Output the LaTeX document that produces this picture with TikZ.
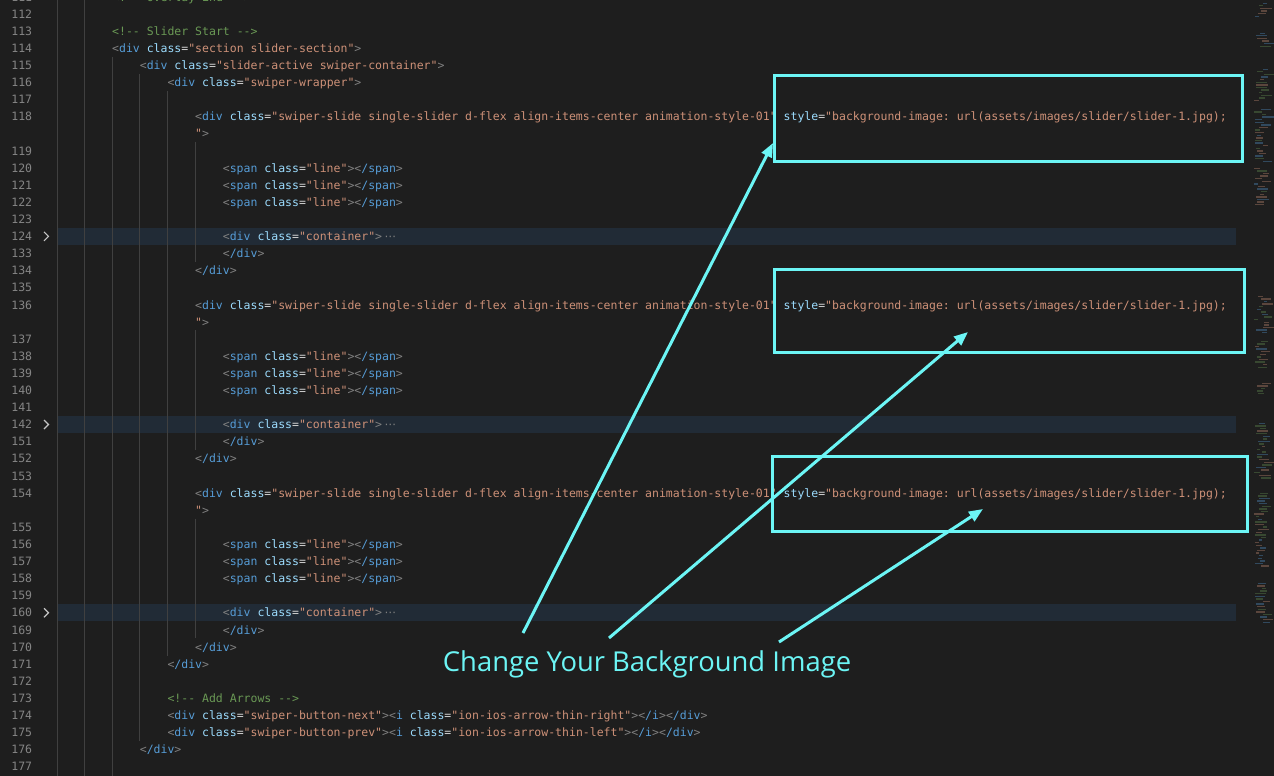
\documentclass[tikz,border=0pt]{standalone}
\usepackage{fontspec}
\setmonofont{DejaVu Sans Mono}
\newfontfamily\labelfont{Open Sans}
\newfontfamily\symfont{DejaVu Sans}
\usetikzlibrary{arrows.meta}
\definecolor{bg}{HTML}{1E1E1E}
\definecolor{lnc}{HTML}{858585}
\definecolor{pun}{HTML}{808080}
\definecolor{tagc}{HTML}{569CD6}
\definecolor{attr}{HTML}{9CDCFE}
\definecolor{eqc}{HTML}{D4D4D4}
\definecolor{strc}{HTML}{CE9178}
\definecolor{comc}{HTML}{6A9955}
\definecolor{guide}{HTML}{404040}
\definecolor{hil}{HTML}{212B36}
\definecolor{cyanc}{HTML}{6CF5F5}
\definecolor{chevc}{HTML}{C5C5C5}
\newcommand\xop[1]{\textcolor{pun}{<}\textcolor{tagc}{#1}}
\newcommand\xcl[1]{\textcolor{pun}{<}\textcolor{tagc}{/#1}\textcolor{pun}{>}}
\newcommand\xgt{\textcolor{pun}{>}}
\newcommand\xat[1]{\textcolor{attr}{#1}\textcolor{eqc}{=}}
\newcommand\xst[1]{\textcolor{strc}{"#1"}}
\newcommand\xcm[1]{\textcolor{comc}{#1}}
\newcommand\xfold{\hspace{2.5pt}\textcolor{pun}{\symfont ⋯}}
\newcommand\xslide{\xop{div} \xat{class}\xst{swiper-slide single-slider d-flex align-items-center animation-style-01} \xat{style}\textcolor{strc}{"background-image: url(assets/images/slider/slider-1.jpg);}}
\newcommand\xspan{\xop{span} \xat{class}\xst{line}\xgt\xcl{span}}
\newcommand\xcont{\xop{div} \xat{class}\xst{container}\xgt\xfold}
\tikzset{
  x=1pt, y=1pt,
  code/.style={anchor=base west, inner sep=0pt, font=\ttfamily\fontsize{11.5}{13}\selectfont},
  lnum/.style={anchor=base east, inner sep=0pt, font=\ttfamily\fontsize{11.5}{13}\selectfont, text=lnc},
  callout/.style={draw=cyanc, line width=3pt, inner sep=0pt, anchor=north west},
  pointer/.style={draw=cyanc, line width=3pt, -{Triangle[length=14pt,width=11pt]}},
  guideline/.style={draw=guide, line width=1pt},
  foldband/.style={fill=hil},
  chev/.style={draw=chevc, line width=1.2pt},
  labeltext/.style={anchor=base west, inner sep=0pt, text=cyanc, font=\labelfont\fontsize{27.4}{30}\selectfont},
}
\newcommand\crow[4]{\node[code] (c#1) at ({56.6+6.92*#3},{-(18.2+17.107*#2)}) {#4};}
\begin{document}
\begin{tikzpicture}
\useasboundingbox (0,0) rectangle (1274,-776);
\clip (0,0) rectangle (1274,-776);
\fill[bg] (0,0) rectangle (1274,-776);
% folded-line highlight bands
\foreach \r in {13,24,35}
  \fill[foldband] (57,{-(14+17.107*\r-8.55)}) rectangle (1236,{-(14+17.107*\r+8.55)});
% indent guides
\draw[guideline] (57,0) -- (57,-776);
\draw[guideline] (84,0) -- (84,-776);
\draw[guideline] (112,{-(14+17.107*2+8.55)}) -- (112,-776);
\draw[guideline] (139.5,{-(14+17.107*3+8.55)}) -- (139.5,{-(14+17.107*42+8.55)});
\draw[guideline] (167,{-(14+17.107*4+8.55)}) -- (167,{-(14+17.107*37+8.55)});
\foreach \a/\b in {7/14,18/25,29/36}
  \draw[guideline] (195,{-(14+17.107*\a+8.55)}) -- (195,{-(14+17.107*\b+8.55)});
% line numbers
\foreach \r/\n in {-1/111,0/112,1/113,2/114,3/115,4/116,5/117,6/118,8/119,9/120,10/121,11/122,12/123,13/124,14/133,15/134,16/135,17/136,19/137,20/138,21/139,22/140,23/141,24/142,25/151,26/152,27/153,28/154,30/155,31/156,32/157,33/158,34/159,35/160,36/169,37/170,38/171,39/172,40/173,41/174,42/175,43/176,44/177}
  \node[lnum] (n\n) at (32.3,{-(18.2+17.107*\r)}) {\n};
% fold chevrons
\foreach \r in {13,24,35}
  \draw[chev] (44,{-(14+17.107*\r-4.5)}) -- (48.5,{-(14+17.107*\r)}) -- (44,{-(14+17.107*\r+4.5)});
% code
\crow{111}{-1}{8}{\xcm{<!-- Overlay End -->}}
\crow{113}{1}{8}{\xcm{<!-- Slider Start -->}}
\crow{114}{2}{8}{\xop{div} \xat{class}\xst{section slider-section}\xgt}
\crow{115}{3}{12}{\xop{div} \xat{class}\xst{slider-active swiper-container}\xgt}
\crow{116}{4}{16}{\xop{div} \xat{class}\xst{swiper-wrapper}\xgt}
\crow{118}{6}{20}{\xslide}
\crow{118w}{7}{20}{\textcolor{strc}{"}\xgt}
\crow{120}{9}{24}{\xspan}
\crow{121}{10}{24}{\xspan}
\crow{122}{11}{24}{\xspan}
\crow{124}{13}{24}{\xcont}
\crow{133}{14}{24}{\xcl{div}}
\crow{134}{15}{20}{\xcl{div}}
\crow{136}{17}{20}{\xslide}
\crow{136w}{18}{20}{\textcolor{strc}{"}\xgt}
\crow{138}{20}{24}{\xspan}
\crow{139}{21}{24}{\xspan}
\crow{140}{22}{24}{\xspan}
\crow{142}{24}{24}{\xcont}
\crow{151}{25}{24}{\xcl{div}}
\crow{152}{26}{20}{\xcl{div}}
\crow{154}{28}{20}{\xslide}
\crow{154w}{29}{20}{\textcolor{strc}{"}\xgt}
\crow{156}{31}{24}{\xspan}
\crow{157}{32}{24}{\xspan}
\crow{158}{33}{24}{\xspan}
\crow{160}{35}{24}{\xcont}
\crow{169}{36}{24}{\xcl{div}}
\crow{170}{37}{20}{\xcl{div}}
\crow{171}{38}{16}{\xcl{div}}
\crow{173}{40}{16}{\xcm{<!-- Add Arrows -->}}
\crow{174}{41}{16}{\xop{div} \xat{class}\xst{swiper-button-next}\xgt\xop{i} \xat{class}\xst{ion-ios-arrow-thin-right}\xgt\xcl{i}\xcl{div}}
\crow{175}{42}{16}{\xop{div} \xat{class}\xst{swiper-button-prev}\xgt\xop{i} \xat{class}\xst{ion-ios-arrow-thin-left}\xgt\xcl{i}\xcl{div}}
\crow{176}{43}{12}{\xcl{div}}
% minimap
\pgfmathsetseed{7}
\foreach \ya/\cnt in {0/6,30/6,66/13,106/21,165/15,293/15,338/11,380/5,420/22,490/29,580/16}{
  \foreach \i in {1,...,\cnt}{
    \pgfmathsetmacro{\myy}{\ya+2.6*\i}
    \pgfmathsetmacro{\mxs}{1254+rnd*10}
    \pgfmathsetmacro{\mlen}{3+rnd*9}
    \pgfmathtruncatemacro{\mci}{3*rnd}
    \ifnum\mci=0 \def\mcol{tagc}\else\ifnum\mci=1 \def\mcol{strc}\else\def\mcol{comc}\fi\fi
    \fill[\mcol, opacity=0.35] (\mxs,-\myy) rectangle ++(\mlen,-1.3);
  }
}
% callout boxes
\node[callout, minimum width=468pt, minimum height=86pt] (box1) at (773,-74) {};
\node[callout, minimum width=470pt, minimum height=83pt] (box2) at (773,-268) {};
\node[callout, minimum width=475pt, minimum height=75pt] (box3) at (771,-455) {};
% label and pointers
\node[labeltext] (label) at (442.7,-671) {Change Your Background Image};
\coordinate (s1) at (523,-633);
\coordinate (s2) at (609,-638);
\coordinate (s3) at (779,-642);
\coordinate (t1) at (773,-143);
\coordinate (t2) at (968,-332);
\coordinate (t3) at (983,-509);
\draw[pointer] (s1) -- (t1);
\draw[pointer] (s2) -- (t2);
\draw[pointer] (s3) -- (t3);
\end{tikzpicture}
\end{document}
